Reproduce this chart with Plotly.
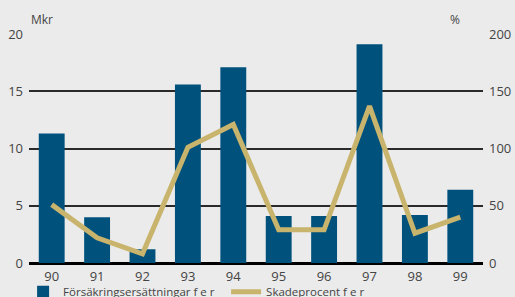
import plotly.graph_objects as go

years = ["90", "91", "92", "93", "94", "95", "96", "97", "98", "99"]
ersattningar = [11.3, 4.0, 1.2, 15.6, 17.1, 4.1, 4.1, 19.1, 4.2, 6.4]
skadeprocent = [51, 22, 8, 101, 121, 29, 29, 137, 26, 40]
left_ticks = [0, 5, 10, 15, 20]
right_ticks = [0, 50, 100, 150, 200]

bg = "#ebebeb"
txt = "#444444"
font_family = "Open Sans"

fig = go.Figure()
fig.add_trace(go.Bar(
    x=years, y=ersattningar, name="Försäkringsersättningar f e r",
    marker=dict(color="#00517c", line=dict(width=0)), yaxis="y",
))
fig.add_trace(go.Scatter(
    x=years, y=skadeprocent, name="Skadeprocent f e r", mode="lines",
    line=dict(color="#c8b46c", width=5), yaxis="y2",
))

fig.update_layout(
    width=515, height=297,
    margin=dict(l=29, r=32, t=34, b=34, autoexpand=False),
    paper_bgcolor=bg, plot_bgcolor=bg,
    font=dict(family=font_family, size=13, color=txt),
    bargap=0.43,
    showlegend=True,
    legend=dict(orientation="h", x=-0.013, y=-0.062, xanchor="left", yanchor="top",
                entrywidth=158, entrywidthmode="pixels",
                font=dict(size=11.5, color=txt), bgcolor="rgba(0,0,0,0)"),
    xaxis=dict(showgrid=False, showline=False, ticks="", tickfont=dict(size=13, color=txt),
               automargin=False, ticklabelstandoff=4),
    yaxis=dict(range=[0, 20], tickvals=left_ticks, showgrid=True, gridcolor="#2a2a2a", gridwidth=1.5,
               zeroline=True, zerolinecolor="#000000", zerolinewidth=3, automargin=False,
               ticks="", tickfont=dict(size=13, color=txt), ticklabelstandoff=5, fixedrange=True),
    yaxis2=dict(range=[0, 200], tickvals=right_ticks, overlaying="y", side="right", automargin=False,
                showgrid=False, zeroline=False, ticks="", tickfont=dict(size=13, color=txt),
                ticklabelstandoff=5),
    annotations=[
        dict(text="Mkr", xref="paper", yref="paper", x=0.0, y=1.0, xanchor="left", yanchor="bottom",
             yshift=4, showarrow=False, font=dict(size=12, color=txt)),
        dict(text="%", xref="paper", yref="paper", x=0.938, y=1.0, xanchor="center", yanchor="bottom",
             yshift=4, showarrow=False, font=dict(size=12, color=txt)),
    ],
)

fig.write_html("out.html", config={"displayModeBar": False},
               post_script="document.body.style.margin='0';document.body.style.padding='0';")
